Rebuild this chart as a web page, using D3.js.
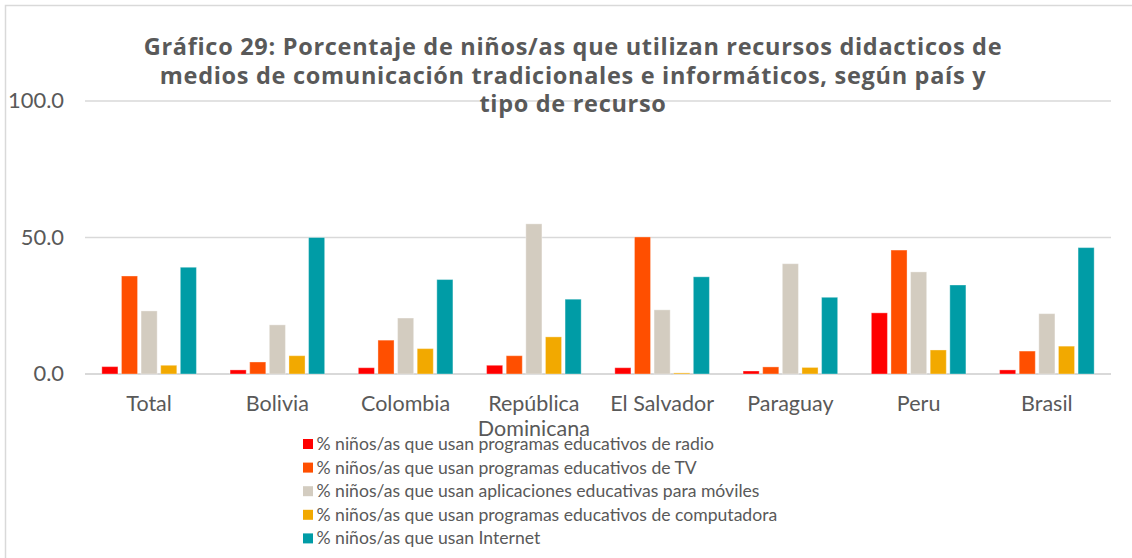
<!DOCTYPE html>
<html>
<head>
<meta charset="utf-8">
<script src="https://cdn.jsdelivr.net/npm/d3@7"></script>
<style>
  html, body { margin: 0; padding: 0; background: #fff; }
  svg { display: block; }
  text { font-family: Lato, "Open Sans", sans-serif; fill: #595959; }
</style>
</head>
<body>
<svg id="chart" width="1132" height="558"></svg>
<script>
const categories = ["Total", "Bolivia", "Colombia", "República Dominicana", "El Salvador", "Paraguay", "Peru", "Brasil"];
const seriesNames = [
  "% niños/as que usan programas educativos de radio",
  "% niños/as que usan programas educativos de TV",
  "% niños/as que usan aplicaciones educativas para móviles",
  "% niños/as que usan programas educativos de computadora",
  "% niños/as que usan Internet"
];
const radio      = [2.7, 1.5, 2.3, 3.2, 2.3, 1.1, 22.4, 1.5];
const tv         = [35.9, 4.4, 12.4, 6.7, 50.2, 2.6, 45.4, 8.4];
const moviles    = [23.1, 18.0, 20.5, 55.0, 23.5, 40.4, 37.4, 22.1];
const computador = [3.2, 6.7, 9.3, 13.6, 0.4, 2.4, 8.8, 10.2];
const internet   = [39.1, 50.0, 34.6, 27.4, 35.6, 28.1, 32.6, 46.3];
const yTicks = [0, 50, 100];
const titleLines = [
  "Gráfico 29: Porcentaje de niños/as que utilizan recursos didacticos de",
  "medios de comunicación tradicionales e informáticos, según país y",
  "tipo de recurso"
];
const colors = ["#FF0000", "#FF4F00", "#D3CCC0", "#F2A900", "#009CA6"];

const seriesValues = [radio, tv, moviles, computador, internet];

const svg = d3.select("#chart");

// scale a text's font size so that its rendered width matches a target width
function fitSize(text, family, weight, target) {
  const t = svg.append("text").attr("font-size", 20).attr("font-weight", weight)
    .style("font-family", family).text(text);
  const w = t.node().getComputedTextLength();
  t.remove();
  return 20 * target / w;
}

// outer border
svg.append("rect").attr("x", 5.5).attr("y", 5.5).attr("width", 1140).attr("height", 570)
  .attr("fill", "#fff").attr("stroke", "#D9D9D9").attr("stroke-width", 1.5);

const x0 = d3.scaleBand().domain(categories).range([85, 1111]).paddingInner(0.235).paddingOuter(0.1175);
const x1 = d3.scaleBand().domain(d3.range(5)).range([0, x0.bandwidth()]).paddingInner(0.18).paddingOuter(0.09);
const y = d3.scaleLinear().domain([0, 100]).range([374, 101]);

// gridlines
svg.append("g").selectAll("line").data(yTicks).join("line")
  .attr("x1", 85).attr("x2", 1111)
  .attr("y1", d => y(d)).attr("y2", d => y(d))
  .attr("stroke", "#D9D9D9").attr("stroke-width", d => d === 0 ? 2 : 1.5);

// y labels
const yFs = fitSize("100.0", "Lato", "normal", 56);
svg.append("g").selectAll("text").data(yTicks).join("text")
  .attr("x", 64).attr("y", d => y(d) + 7)
  .attr("text-anchor", "end").attr("font-size", yFs)
  .text(d => d3.format(".1f")(d));

// bars
const groups = svg.append("g").selectAll("g").data(categories).join("g")
  .attr("transform", c => `translate(${x0(c)},0)`);
groups.selectAll("rect").data((c, i) => seriesValues.map((s, k) => ({k, v: s[i]}))).join("rect")
  .attr("x", d => x1(d.k)).attr("width", x1.bandwidth())
  .attr("y", d => y(d.v)).attr("height", d => y(0) - y(d.v))
  .attr("fill", d => colors[d.k])
  .attr("stroke", "#fff").attr("stroke-opacity", 0.35).attr("stroke-width", 1);

// category labels
const catFs = Math.min(21.5, fitSize("República", "Lato", "normal", 95));
const catG = svg.append("g");
categories.forEach(c => {
  const cx = x0(c) + x0.bandwidth() / 2;
  const t = catG.append("text").attr("x", cx).attr("y", 411)
    .attr("text-anchor", "middle").attr("font-size", catFs);
  if (c === "República Dominicana") {
    t.append("tspan").attr("x", cx).attr("dy", 0).text("República");
    t.append("tspan").attr("x", cx).attr("dy", 25).text("Dominicana");
  } else {
    t.text(c);
  }
});

// title
const titleFs = 23.5;
svg.append("g").selectAll("text").data(titleLines).join("text")
  .attr("x", 573).attr("y", (d, i) => 55 + i * 28.5)
  .attr("text-anchor", "middle").attr("font-size", titleFs).attr("font-weight", "bold")
  .attr("letter-spacing", 0.7)
  .style("font-family", "'Open Sans', Lato, sans-serif")
  .text(d => d);

// legend
const legFs = fitSize(seriesNames[0], "Lato", "normal", 398);
const lg = svg.append("g").selectAll("g").data(seriesNames).join("g")
  .attr("transform", (d, i) => `translate(303,${444 + i * 23.6})`);
lg.append("rect").attr("x", 0).attr("y", -5).attr("width", 10).attr("height", 10)
  .attr("fill", (d, i) => colors[i]);
lg.append("text").attr("x", 13.5).attr("y", 6).attr("font-size", legFs).text(d => d);
</script>
</body>
</html>
